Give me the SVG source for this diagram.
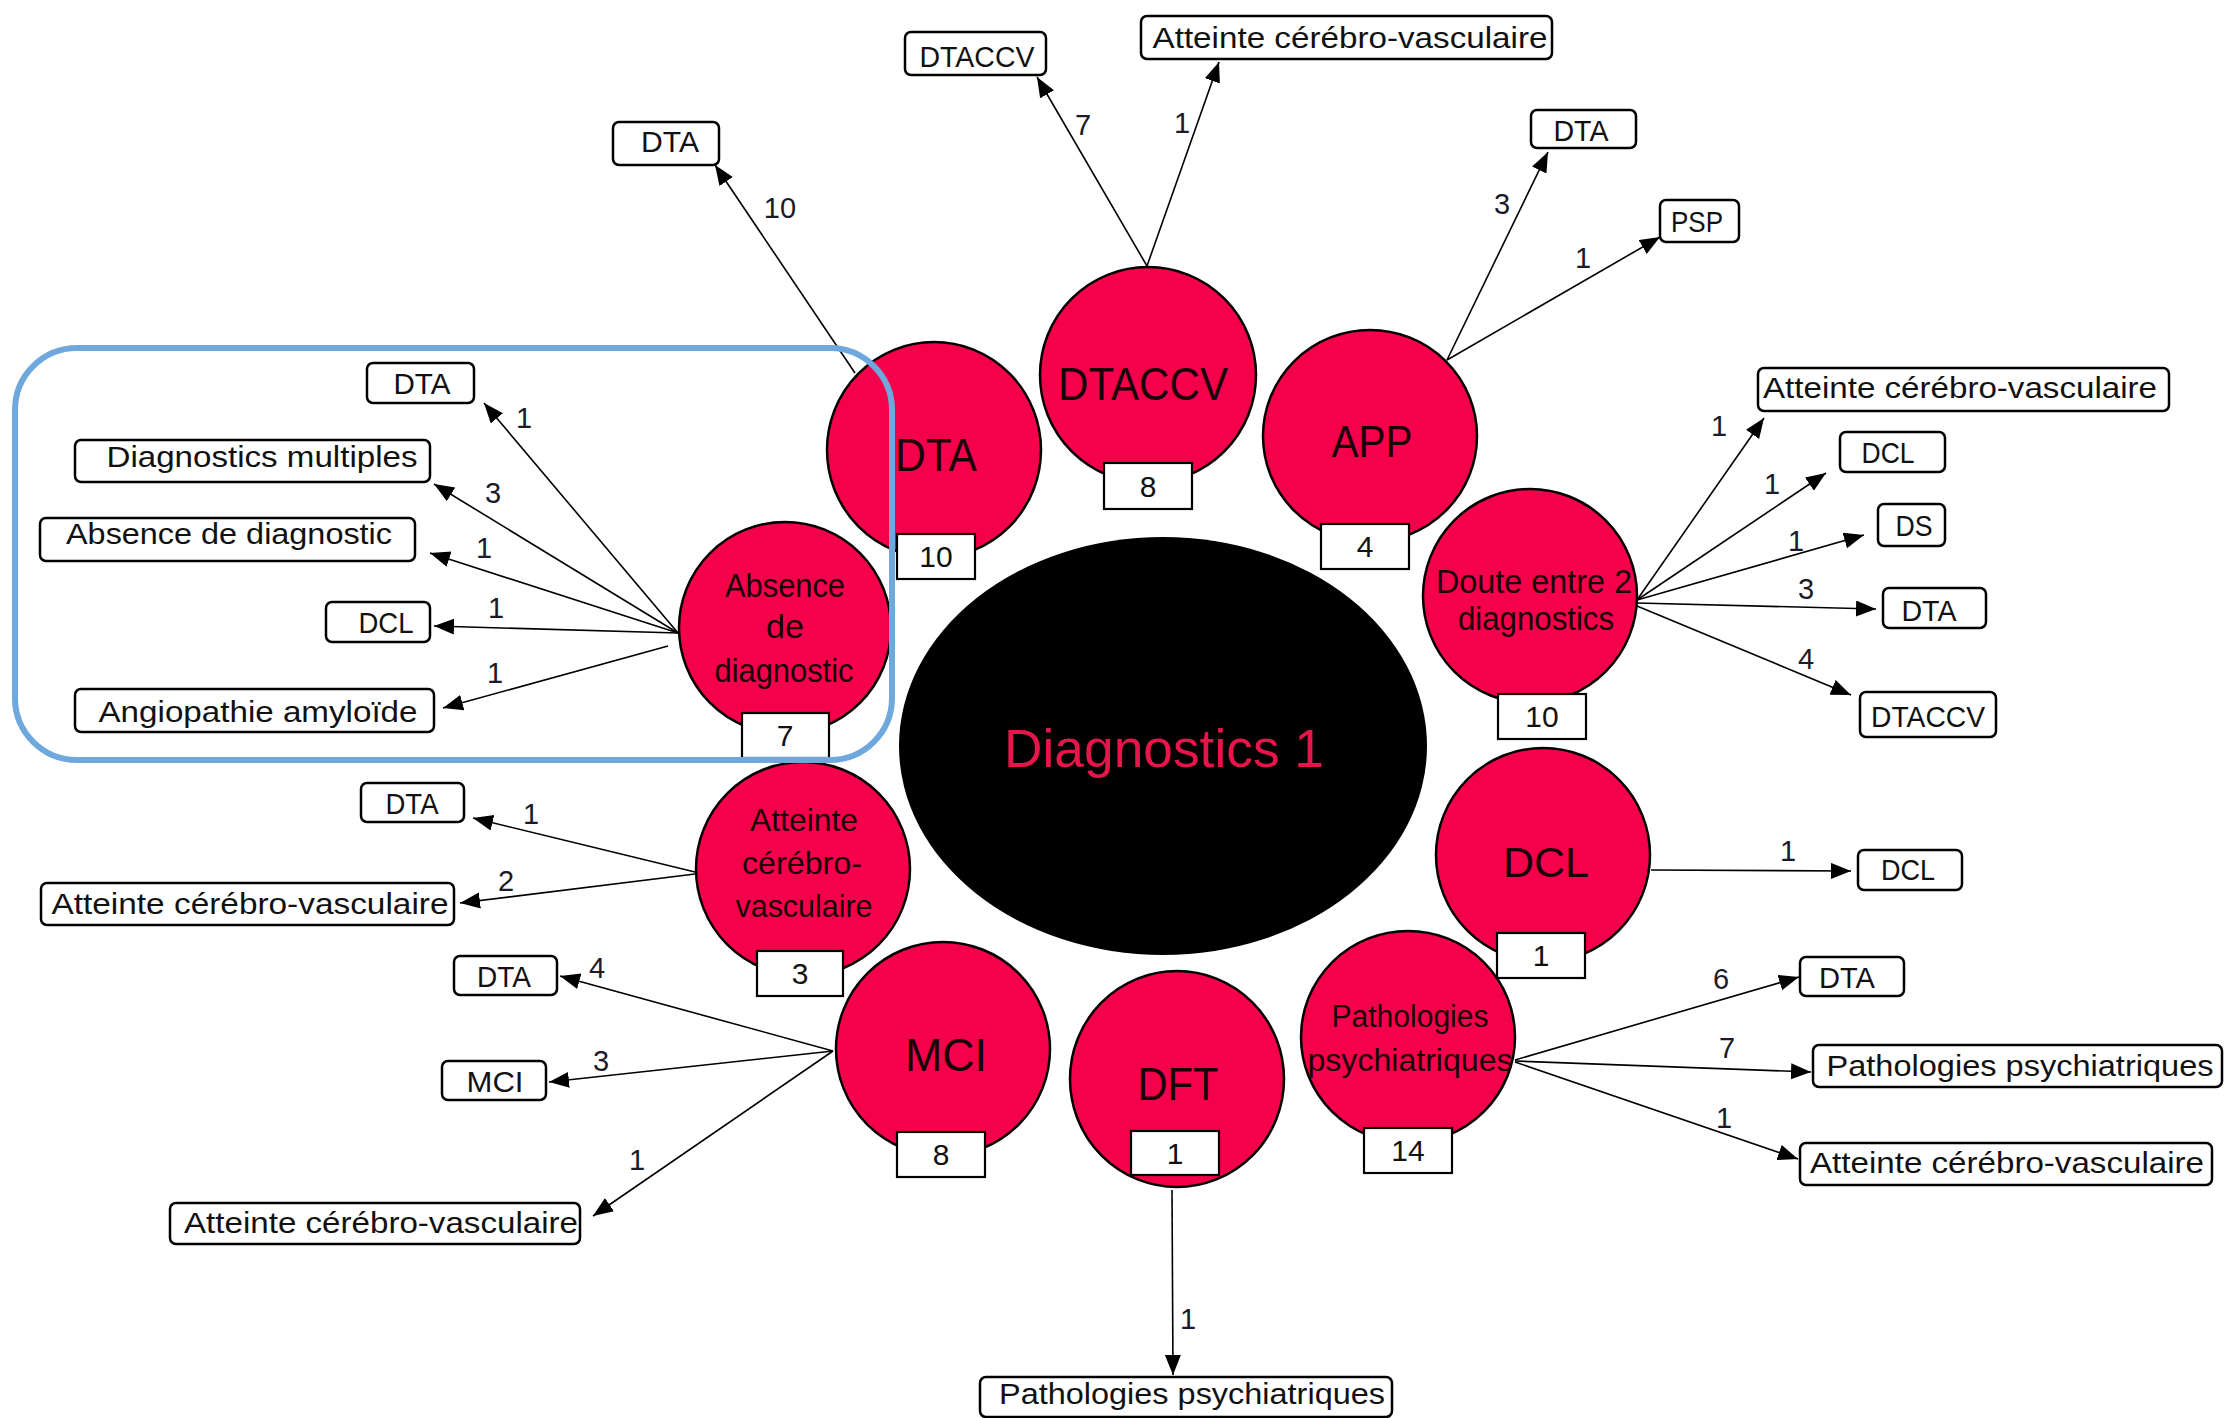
<svg xmlns="http://www.w3.org/2000/svg" width="2227" height="1418" viewBox="0 0 2227 1418">
<style>
.bg{fill:#ffffff}
.conn line{stroke:#000;stroke-width:1.6;marker-end:url(#ah)}
.num{font-family:"Liberation Sans",Arial,sans-serif;font-size:29px;fill:#1a1a2a;text-anchor:middle}
.circ{fill:#F5004B;stroke:#000;stroke-width:2.5}
.clab{font-family:"Liberation Sans",Arial,sans-serif;fill:#1a0008;text-anchor:middle}
.cnt rect{fill:#fff;stroke:#000;stroke-width:2.2}
.cnt text{font-family:"Liberation Sans",Arial,sans-serif;font-size:30px;fill:#111;text-anchor:middle}
.lbl rect{fill:#fff;stroke:#000;stroke-width:2.5}
.lbl text{font-family:"Liberation Sans",Arial,sans-serif;font-size:30px;fill:#111;text-anchor:middle}
</style>
<defs>
<marker id="ah" markerUnits="userSpaceOnUse" markerWidth="22" markerHeight="18" refX="20" refY="8" orient="auto" viewBox="0 0 22 18">
<path d="M0,0 L20,8 L0,16 z" fill="#000"/>
</marker>
</defs>
<rect class="bg" x="0" y="0" width="2227" height="1418"/>

<g id="connectors" class="conn">
<line x1="855" y1="373" x2="715" y2="165"/>
<line x1="1147" y1="266" x2="1037" y2="77"/>
<line x1="1147" y1="266" x2="1219" y2="62"/>
<line x1="1447" y1="360" x2="1548" y2="152"/>
<line x1="1447" y1="360" x2="1660" y2="237"/>
<line x1="1637" y1="600" x2="1764" y2="418"/>
<line x1="1637" y1="600" x2="1826" y2="473"/>
<line x1="1637" y1="600" x2="1864" y2="535"/>
<line x1="1637" y1="603" x2="1876" y2="609"/>
<line x1="1637" y1="606" x2="1851" y2="695"/>
<line x1="1651" y1="870" x2="1851" y2="871"/>
<line x1="1515" y1="1060" x2="1799" y2="977"/>
<line x1="1515" y1="1061" x2="1811" y2="1072"/>
<line x1="1515" y1="1062" x2="1798" y2="1159"/>
<line x1="1172" y1="1190" x2="1173" y2="1375"/>
<line x1="833" y1="1051" x2="560" y2="976"/>
<line x1="833" y1="1051" x2="549" y2="1082"/>
<line x1="833" y1="1051" x2="593" y2="1216"/>
<line x1="695" y1="872" x2="473" y2="818"/>
<line x1="695" y1="874" x2="460" y2="903"/>
<line x1="678" y1="633" x2="484" y2="403"/>
<line x1="678" y1="633" x2="434" y2="484"/>
<line x1="678" y1="633" x2="430" y2="553"/>
<line x1="678" y1="633" x2="434" y2="626"/>
<line x1="668" y1="646" x2="443" y2="708"/>
</g>

<g id="connector-labels">
<text class="num" x="780" y="218">10</text>
<text class="num" x="1083" y="135">7</text>
<text class="num" x="1182" y="133">1</text>
<text class="num" x="1502" y="214">3</text>
<text class="num" x="1583" y="268">1</text>
<text class="num" x="1719" y="436">1</text>
<text class="num" x="1772" y="494">1</text>
<text class="num" x="1796" y="551">1</text>
<text class="num" x="1806" y="599">3</text>
<text class="num" x="1806" y="669">4</text>
<text class="num" x="1788" y="861">1</text>
<text class="num" x="1721" y="989">6</text>
<text class="num" x="1727" y="1058">7</text>
<text class="num" x="1724" y="1128">1</text>
<text class="num" x="1188" y="1329">1</text>
<text class="num" x="597" y="978">4</text>
<text class="num" x="601" y="1071">3</text>
<text class="num" x="637" y="1170">1</text>
<text class="num" x="531" y="824">1</text>
<text class="num" x="506" y="891">2</text>
<text class="num" x="524" y="428">1</text>
<text class="num" x="493" y="503">3</text>
<text class="num" x="484" y="558">1</text>
<text class="num" x="496" y="618">1</text>
<text class="num" x="495" y="683">1</text>
</g>

<g id="center">
<ellipse cx="1163" cy="746" rx="264" ry="209" fill="#000"/>
<text x="1164" y="767" font-family="'Liberation Sans',Arial,sans-serif" font-size="53" fill="#E8154B" text-anchor="middle" textLength="320" lengthAdjust="spacingAndGlyphs">Diagnostics 1</text>
</g>

<g id="node-dta">
<ellipse class="circ" cx="934" cy="450" rx="107" ry="108"/>
<text class="clab" x="936" y="471" font-size="46" textLength="82" lengthAdjust="spacingAndGlyphs">DTA</text>
</g>
<g id="node-dtaccv">
<ellipse class="circ" cx="1148" cy="375" rx="108" ry="108"/>
<text class="clab" x="1143" y="400" font-size="47" textLength="170" lengthAdjust="spacingAndGlyphs">DTACCV</text>
</g>
<g id="node-app">
<ellipse class="circ" cx="1370" cy="436" rx="107" ry="106"/>
<text class="clab" x="1372" y="457" font-size="45" textLength="81" lengthAdjust="spacingAndGlyphs">APP</text>
</g>
<g id="node-doute">
<ellipse class="circ" cx="1530" cy="596" rx="107" ry="107"/>
<text class="clab" x="1534" y="593" font-size="33" textLength="196" lengthAdjust="spacingAndGlyphs">Doute entre 2</text>
<text class="clab" x="1536" y="630" font-size="33" textLength="156" lengthAdjust="spacingAndGlyphs">diagnostics</text>
</g>
<g id="node-dcl">
<ellipse class="circ" cx="1543" cy="855" rx="107" ry="107"/>
<text class="clab" x="1546" y="877" font-size="43" textLength="86" lengthAdjust="spacingAndGlyphs">DCL</text>
</g>
<g id="node-pathpsy">
<ellipse class="circ" cx="1408" cy="1037" rx="107" ry="106"/>
<text class="clab" x="1410" y="1027" font-size="31" textLength="157" lengthAdjust="spacingAndGlyphs">Pathologies</text>
<text class="clab" x="1410" y="1071" font-size="31" textLength="205" lengthAdjust="spacingAndGlyphs">psychiatriques</text>
</g>
<g id="node-dft">
<ellipse class="circ" cx="1177" cy="1079" rx="107" ry="108"/>
<text class="clab" x="1178" y="1100" font-size="46" textLength="81" lengthAdjust="spacingAndGlyphs">DFT</text>
</g>
<g id="node-mci">
<ellipse class="circ" cx="943" cy="1049" rx="107" ry="107"/>
<text class="clab" x="946" y="1071" font-size="46" textLength="82" lengthAdjust="spacingAndGlyphs">MCI</text>
</g>
<g id="node-atteinte">
<ellipse class="circ" cx="803" cy="869" rx="107" ry="107"/>
<text class="clab" x="804" y="831" font-size="32" textLength="108" lengthAdjust="spacingAndGlyphs">Atteinte</text>
<text class="clab" x="802" y="874" font-size="32" textLength="120" lengthAdjust="spacingAndGlyphs">cérébro-</text>
<text class="clab" x="804" y="917" font-size="32" textLength="137" lengthAdjust="spacingAndGlyphs">vasculaire</text>
</g>
<g id="node-absence">
<ellipse class="circ" cx="785" cy="628" rx="106" ry="106"/>
<text class="clab" x="785" y="597" font-size="33" textLength="120" lengthAdjust="spacingAndGlyphs">Absence</text>
<text class="clab" x="785" y="638" font-size="33" textLength="38" lengthAdjust="spacingAndGlyphs">de</text>
<text class="clab" x="784" y="682" font-size="33" textLength="139" lengthAdjust="spacingAndGlyphs">diagnostic</text>
</g>

<g id="counts" class="cnt">
<g id="count-dta"><rect x="897" y="534" width="78" height="45"/><text x="936" y="567">10</text></g>
<g id="count-dtaccv"><rect x="1104" y="463" width="88" height="46"/><text x="1148" y="497">8</text></g>
<g id="count-app"><rect x="1321" y="524" width="88" height="45"/><text x="1365" y="557">4</text></g>
<g id="count-doute"><rect x="1498" y="694" width="88" height="45"/><text x="1542" y="727">10</text></g>
<g id="count-dcl"><rect x="1497" y="933" width="88" height="45"/><text x="1541" y="966">1</text></g>
<g id="count-pathpsy"><rect x="1364" y="1128" width="88" height="45"/><text x="1408" y="1161">14</text></g>
<g id="count-dft"><rect x="1131" y="1131" width="88" height="44"/><text x="1175" y="1164">1</text></g>
<g id="count-mci"><rect x="897" y="1132" width="88" height="45"/><text x="941" y="1165">8</text></g>
<g id="count-atteinte"><rect x="757" y="951" width="86" height="45"/><text x="800" y="984">3</text></g>
<g id="count-absence"><rect x="742" y="713" width="87" height="45"/><text x="785" y="746">7</text></g>
</g>

<g id="targets" class="lbl">
<g id="t-dta-dta"><rect x="613" y="122" width="106" height="43" rx="6"/><text x="670" y="152" textLength="58" lengthAdjust="spacingAndGlyphs">DTA</text></g>
<g id="t-dtaccv-dtaccv"><rect x="905" y="32" width="141" height="43" rx="6"/><text x="977" y="67" textLength="115" lengthAdjust="spacingAndGlyphs">DTACCV</text></g>
<g id="t-dtaccv-acv"><rect x="1141" y="16" width="411" height="43" rx="6"/><text x="1350" y="48" textLength="395" lengthAdjust="spacingAndGlyphs">Atteinte cérébro-vasculaire</text></g>
<g id="t-app-dta"><rect x="1531" y="110" width="105" height="38" rx="6"/><text x="1581" y="141" textLength="55" lengthAdjust="spacingAndGlyphs">DTA</text></g>
<g id="t-app-psp"><rect x="1660" y="200" width="79" height="42" rx="6"/><text x="1697" y="232" textLength="52" lengthAdjust="spacingAndGlyphs">PSP</text></g>
<g id="t-doute-acv"><rect x="1758" y="368" width="411" height="43" rx="6"/><text x="1960" y="398" textLength="394" lengthAdjust="spacingAndGlyphs">Atteinte cérébro-vasculaire</text></g>
<g id="t-doute-dcl"><rect x="1840" y="432" width="105" height="40" rx="6"/><text x="1888" y="463" textLength="53" lengthAdjust="spacingAndGlyphs">DCL</text></g>
<g id="t-doute-ds"><rect x="1878" y="504" width="67" height="42" rx="6"/><text x="1914" y="536" textLength="37" lengthAdjust="spacingAndGlyphs">DS</text></g>
<g id="t-doute-dta"><rect x="1883" y="588" width="103" height="40" rx="6"/><text x="1929" y="621" textLength="55" lengthAdjust="spacingAndGlyphs">DTA</text></g>
<g id="t-doute-dtaccv"><rect x="1860" y="692" width="136" height="45" rx="6"/><text x="1928" y="727" textLength="114" lengthAdjust="spacingAndGlyphs">DTACCV</text></g>
<g id="t-dcl-dcl"><rect x="1858" y="850" width="104" height="40" rx="6"/><text x="1908" y="880" textLength="54" lengthAdjust="spacingAndGlyphs">DCL</text></g>
<g id="t-psy-dta"><rect x="1800" y="957" width="104" height="39" rx="6"/><text x="1847" y="988" textLength="56" lengthAdjust="spacingAndGlyphs">DTA</text></g>
<g id="t-psy-psy"><rect x="1813" y="1045" width="409" height="42" rx="6"/><text x="2020" y="1076" textLength="387" lengthAdjust="spacingAndGlyphs">Pathologies psychiatriques</text></g>
<g id="t-psy-acv"><rect x="1800" y="1143" width="412" height="42" rx="6"/><text x="2007" y="1173" textLength="394" lengthAdjust="spacingAndGlyphs">Atteinte cérébro-vasculaire</text></g>
<g id="t-dft-psy"><rect x="980" y="1377" width="412" height="40" rx="6"/><text x="1192" y="1404" textLength="386" lengthAdjust="spacingAndGlyphs">Pathologies psychiatriques</text></g>
<g id="t-mci-dta"><rect x="454" y="956" width="103" height="39" rx="6"/><text x="504" y="987" textLength="54" lengthAdjust="spacingAndGlyphs">DTA</text></g>
<g id="t-mci-mci"><rect x="442" y="1061" width="104" height="39" rx="6"/><text x="495" y="1092" textLength="57" lengthAdjust="spacingAndGlyphs">MCI</text></g>
<g id="t-mci-acv"><rect x="170" y="1203" width="410" height="41" rx="6"/><text x="381" y="1233" textLength="394" lengthAdjust="spacingAndGlyphs">Atteinte cérébro-vasculaire</text></g>
<g id="t-acv-dta"><rect x="361" y="783" width="103" height="39" rx="6"/><text x="412" y="814" textLength="53" lengthAdjust="spacingAndGlyphs">DTA</text></g>
<g id="t-acv-acv"><rect x="41" y="883" width="413" height="42" rx="6"/><text x="250" y="914" textLength="397" lengthAdjust="spacingAndGlyphs">Atteinte cérébro-vasculaire</text></g>
<g id="t-abs-dta"><rect x="367" y="363" width="107" height="40" rx="6"/><text x="422" y="394" textLength="57" lengthAdjust="spacingAndGlyphs">DTA</text></g>
<g id="t-abs-multi"><rect x="75" y="440" width="355" height="42" rx="6"/><text x="262" y="467" textLength="311" lengthAdjust="spacingAndGlyphs">Diagnostics multiples</text></g>
<g id="t-abs-abs"><rect x="40" y="518" width="375" height="43" rx="6"/><text x="229" y="544" textLength="326" lengthAdjust="spacingAndGlyphs">Absence de diagnostic</text></g>
<g id="t-abs-dcl"><rect x="326" y="602" width="104" height="40" rx="6"/><text x="386" y="633" textLength="55" lengthAdjust="spacingAndGlyphs">DCL</text></g>
<g id="t-abs-angio"><rect x="75" y="689" width="359" height="43" rx="6"/><text x="258" y="722" textLength="319" lengthAdjust="spacingAndGlyphs">Angiopathie amyloïde</text></g>
</g>

<g id="highlight">
<rect x="15" y="348" width="877" height="412" rx="62" ry="62" fill="none" stroke="#6FA8DC" stroke-width="6"/>
</g>
</svg>
